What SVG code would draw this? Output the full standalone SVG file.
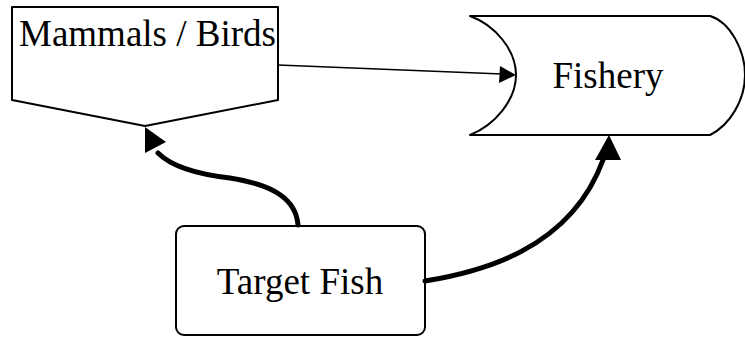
<svg xmlns="http://www.w3.org/2000/svg" width="745" height="337" viewBox="0 0 745 337">
<style>
.shape{fill:#fff;stroke:#000;stroke-width:2;stroke-linejoin:round}
.lbl{font-family:"Liberation Serif","Times New Roman",serif;font-size:37px;fill:#000}
.thin{fill:none;stroke:#000;stroke-width:1.5}
.thick{fill:none;stroke:#000;stroke-width:5;stroke-linecap:round}
.head{fill:#000;stroke:none}
</style>
<rect width="745" height="337" fill="#fff"/>
<g id="mammals">
<polygon class="shape" points="12,7 278,7 278,100 145,126 12,100"/>
<text class="lbl" x="19" y="46">Mammals / Birds</text>
</g>
<g id="fishery">
<path class="shape" d="M470,16 H710 C730,22 745,50 745,75 C745,100 730,125 710,135 H470 C495,125 516,100 516,75 C516,50 495,25 470,16 Z"/>
<text class="lbl" x="608" y="88" text-anchor="middle">Fishery</text>
</g>
<g id="target">
<rect class="shape" x="176" y="226" width="249" height="109" rx="8"/>
<text class="lbl" x="300" y="294" text-anchor="middle">Target Fish</text>
</g>
<g id="connectors">
<line class="thin" x1="278" y1="65" x2="502" y2="74"/>
<polygon class="head" points="516,75 500,66 499,83"/>
<path class="thick" d="M298,225 C296,200 275,185 230,178 C195,174 170,165 158,153"/>
<polygon class="head" points="145,127 145,153 166,142"/>
<path class="thick" d="M425,281 C480,272 570,250 603,160"/>
<polygon class="head" points="609,135 595,160 621,160"/>
</g>
</svg>
